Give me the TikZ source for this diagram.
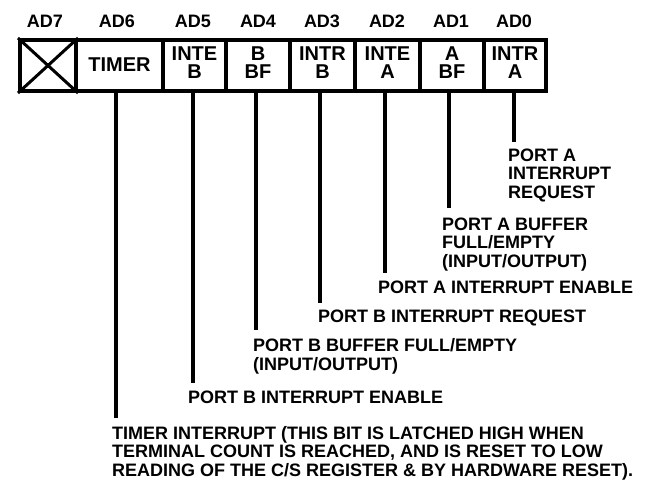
\documentclass[tikz,border=0pt]{standalone}
\usepackage{fontspec}
\setmainfont{Liberation Sans}
\begin{document}
\begin{tikzpicture}[x=1pt,y=-1pt,
  cell/.style={draw,line width=4pt,minimum height=51pt,inner sep=0pt},
  celltext/.style={inner sep=0pt,align=center,font=\fontsize{20}{18.5}\selectfont\bfseries},
  head/.style={inner sep=0pt,anchor=base,font=\fontsize{18}{18}\selectfont\bfseries},
  lbl/.style={inner sep=0pt,anchor=base west,align=left,font=\fontsize{18}{18.5}\selectfont\bfseries},
  wire/.style={line width=4pt}]
\useasboundingbox (0,0) rectangle (660,479);
% register cells
\node[cell,minimum width=56pt] (c7) at (48,65.5) {};
\node[cell,minimum width=87pt] (c6) at (119.5,65.5) {};
\node[cell,minimum width=63pt] (c5) at (194.5,65.5) {};
\node[cell,minimum width=64pt] (c4) at (258,65.5) {};
\node[cell,minimum width=65pt] (c3) at (322.5,65.5) {};
\node[cell,minimum width=65pt] (c2) at (387.5,65.5) {};
\node[cell,minimum width=64pt] (c1) at (452,65.5) {};
\node[cell,minimum width=62pt] (c0) at (515,65.5) {};
\draw[line width=3pt] (c7.north west) -- (c7.south east) (c7.south west) -- (c7.north east);
% cell texts
\node[celltext] (t6) at ([yshift=1pt]c6.center) {TIMER};
\node[celltext] (t5) at ([yshift=3pt]c5.center) {INTE\\B};
\node[celltext] (t4) at ([yshift=3pt]c4.center) {B\\BF};
\node[celltext] (t3) at ([yshift=3pt]c3.center) {INTR\\B};
\node[celltext] (t2) at ([yshift=3pt]c2.center) {INTE\\A};
\node[celltext] (t1) at ([yshift=3pt]c1.center) {A\\BF};
\node[celltext] (t0) at ([yshift=3pt]c0.center) {INTR\\A};
% headers
\node[head] (h7) at (45,27) {AD7};
\node[head] (h6) at (117,27) {AD6};
\node[head] (h5) at (193,27) {AD5};
\node[head] (h4) at (258,27) {AD4};
\node[head] (h3) at (322,27) {AD3};
\node[head] (h2) at (387,27) {AD2};
\node[head] (h1) at (451,27) {AD1};
\node[head] (h0) at (514,27) {AD0};
% line ends
\coordinate (e6) at (116,418);
\coordinate (e5) at (193,383);
\coordinate (e4) at (256,330);
\coordinate (e3) at (320,303);
\coordinate (e2) at (385,273);
\coordinate (e1) at (449,208);
\coordinate (e0) at (514,142);
\draw[wire] (c6.south -| e6) -- (e6);
\draw[wire] (c5.south -| e5) -- (e5);
\draw[wire] (c4.south -| e4) -- (e4);
\draw[wire] (c3.south -| e3) -- (e3);
\draw[wire] (c2.south -| e2) -- (e2);
\draw[wire] (c1.south -| e1) -- (e1);
\draw[wire] (c0.south -| e0) -- (e0);
% labels (base = baseline of last line)
\node[lbl] (l0) at (508,198) {PORT A\\INTERRUPT\\REQUEST};
\node[lbl] (l1) at (442,267) {PORT A BUFFER\\FULL/EMPTY\\(INPUT/OUTPUT)};
\node[lbl] (l2) at (378,293) {PORT A INTERRUPT ENABLE};
\node[lbl] (l3) at (318,322) {PORT B INTERRUPT REQUEST};
\node[lbl] (l4) at (253,370) {PORT B BUFFER FULL/EMPTY\\(INPUT/OUTPUT)};
\node[lbl] (l5) at (188,403) {PORT B INTERRUPT ENABLE};
\node[lbl] (l6) at (112,476) {TIMER INTERRUPT (THIS BIT IS LATCHED HIGH WHEN\\TERMINAL COUNT IS REACHED, AND IS RESET TO LOW\\READING OF THE C/S REGISTER \& BY HARDWARE RESET).};
\end{tikzpicture}
\end{document}
